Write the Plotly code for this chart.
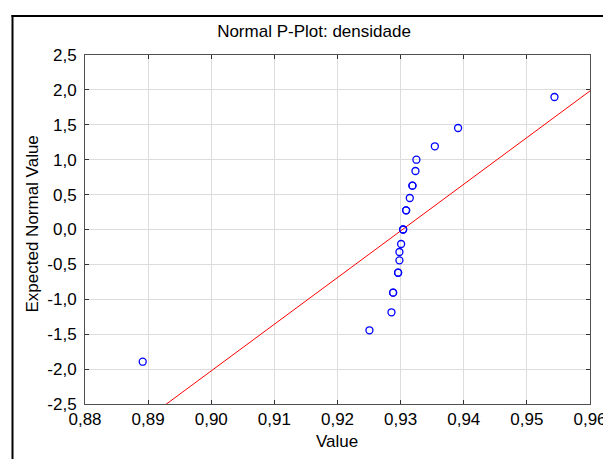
import plotly.graph_objects as go

# ---- data ----
values = [0.88914, 0.92506, 0.92855, 0.92881, 0.92881, 0.92960, 0.92960,
          0.92981, 0.92981, 0.93008, 0.93040, 0.93040, 0.93087, 0.93087,
          0.93145, 0.93187, 0.93187, 0.93235, 0.93250, 0.93542, 0.93910, 0.95437]
expected = [-1.894, -1.444, -1.186, -0.905, -0.905, -0.619, -0.619,
            -0.442, -0.322, -0.208, 0.0, 0.0, 0.275, 0.275,
            0.451, 0.628, 0.628, 0.838, 1.0, 1.192, 1.454, 1.898]

line_mean = 0.9303
line_sd = 0.01496

x_ticks = [0.88, 0.89, 0.90, 0.91, 0.92, 0.93, 0.94, 0.95, 0.96]
x_labels = ["0,88", "0,89", "0,90", "0,91", "0,92", "0,93", "0,94", "0,95", "0,96"]
y_ticks = [-2.5, -2.0, -1.5, -1.0, -0.5, 0.0, 0.5, 1.0, 1.5, 2.0, 2.5]
y_labels = ["-2,5", "-2,0", "-1,5", "-1,0", "-0,5", "0,0", "0,5", "1,0", "1,5", "2,0", "2,5"]

x_range = [0.88, 0.96]
y_range = [-2.5, 2.5]

# ---- layout geometry (page pixels; body margin removed via post_script) ----
W, H = 603, 459
L, R, T, B = 85, 13, 55, 55
pw, ph = W - L - R, H - T - B

def px_x(p):
    return (p - L) / pw

def px_y(p):
    return (H - B - p) / ph

FONT = "Arial, Liberation Sans, sans-serif"
FS = 17

lx = [x_range[0], x_range[1]]
ly = [(v - line_mean) / line_sd for v in lx]

fig = go.Figure()
fig.add_trace(go.Scatter(x=lx, y=ly, mode="lines",
                         line=dict(color="#ff0000", width=1),
                         hoverinfo="skip", showlegend=False))
fig.add_trace(go.Scatter(x=values, y=expected, mode="markers",
                         marker=dict(symbol="circle-open", size=7,
                                     color="#0000ff", line=dict(width=1.3, color="#0000ff")),
                         showlegend=False))

axis_common = dict(
    showgrid=True, gridcolor="#dcdcdc", gridwidth=1,
    zeroline=False, showline=True, linecolor="#505050", linewidth=1,
    mirror="ticks", ticks="inside", ticklen=4, tickcolor="#303030",
    ticklabeloverflow="allow",
    tickfont=dict(family=FONT, size=FS, color="#000000"),
)

fig.update_layout(
    width=W, height=H,
    margin=dict(l=L, r=R, t=T, b=B, autoexpand=False),
    paper_bgcolor="white", plot_bgcolor="white",
    title=dict(text="Normal P-Plot: densidade", x=314 / W, y=1 - 31 / H,
               xref="container", yref="container",
               xanchor="center", yanchor="middle",
               font=dict(family=FONT, size=FS, color="#000000")),
    xaxis=dict(range=x_range, tickvals=x_ticks, ticktext=x_labels, **axis_common),
    yaxis=dict(range=y_range, tickvals=y_ticks, ticktext=y_labels,
               ticklabelstandoff=4, **axis_common),
    annotations=[
        dict(text="Value", x=px_x(337), y=px_y(441), xref="paper", yref="paper",
             xanchor="center", yanchor="middle", showarrow=False,
             font=dict(family=FONT, size=FS, color="#000000")),
        dict(text="Expected Normal Value", x=px_x(31.5), y=px_y(224),
             xref="paper", yref="paper", textangle=-90,
             xanchor="center", yanchor="middle", showarrow=False,
             font=dict(family=FONT, size=FS, color="#000000")),
    ],
    shapes=[
        dict(type="line", xref="paper", yref="paper",
             x0=px_x(12.5), x1=px_x(12.5), y0=px_y(15), y1=px_y(480),
             line=dict(color="#000000", width=2)),
        dict(type="line", xref="paper", yref="paper",
             x0=px_x(11.5), x1=px_x(640), y0=px_y(16), y1=px_y(16),
             line=dict(color="#000000", width=2)),
    ],
)

fig.write_html("out.html",
               config={"displayModeBar": False},
               post_script="document.body.style.margin='0';document.body.style.overflow='hidden';")
